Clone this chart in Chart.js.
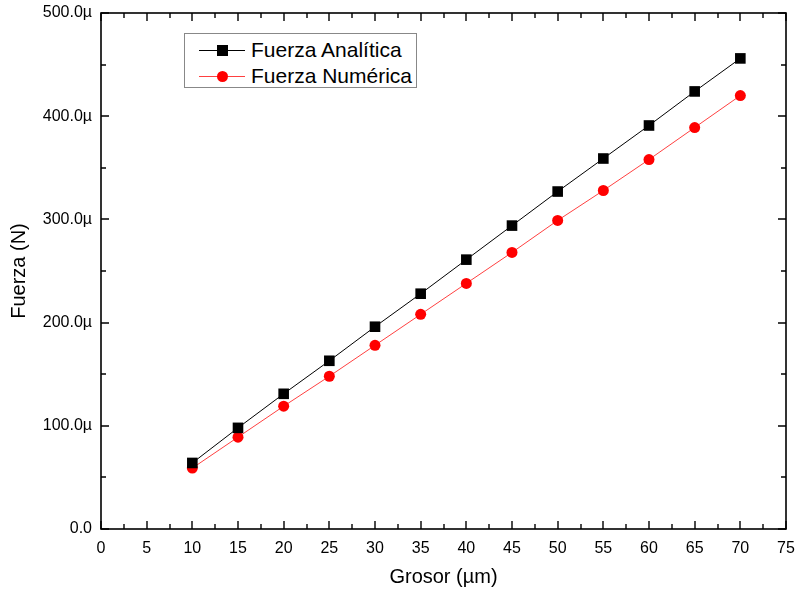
<!DOCTYPE html>
<html>
<head>
<meta charset="utf-8">
<script src="https://cdn.jsdelivr.net/npm/chart.js@4.4.0/dist/chart.umd.min.js"></script>
<style>
	body { margin: 0; background: #fff; }
	#wrap { position: relative; width: 796px; height: 594px; }
	#legend {
		position: absolute; left: 184px; top: 33px; width: 233px; height: 55px;
		border: 1px solid #888; background: #fff; box-sizing: border-box;
		font-family: "Liberation Sans", Arial, sans-serif; font-size: 21px; color: #000;
	}
	.row { position: absolute; left: 0; height: 26px; width: 100%; }
	.row .line { position: absolute; left: 14px; width: 46px; top: 13px; height: 1px; }
	.row .mark { position: absolute; left: 32px; top: 8px; width: 11px; height: 11px; }
	.row span { position: absolute; left: 66px; top: 1px; line-height: 24px; white-space: nowrap; }
</style>
</head>
<body>
<div id="wrap">
	<canvas id="chart" width="796" height="594"></canvas>
	<div id="legend">
		<div class="row" style="top:3px"><div class="line" style="background:#000"></div><div class="mark" style="background:#000"></div><span>Fuerza Analítica</span></div>
		<div class="row" style="top:29px"><div class="line" style="background:#ff4040"></div><div class="mark" style="background:#ff0000;border-radius:50%"></div><span>Fuerza Numérica</span></div>
	</div>
</div>
<script>
// grosor en micrometros
const grosor = [10, 15, 20, 25, 30, 35, 40, 45, 50, 55, 60, 65, 70];
// fuerza en microNewton
const fuerzaAnalitica = [64, 98, 131, 163, 196, 228, 261, 294, 327, 359, 391, 424, 456];
const fuerzaNumerica = [59, 89, 119, 148, 178, 208, 238, 268, 299, 328, 358, 389, 420];

const xTitle = "Grosor (µm)";
const yTitle = "Fuerza (N)";

const font = "'Liberation Sans', Arial, sans-serif";

function toPoints(ys) {
	return grosor.map(function(x, i) { return {x: x, y: ys[i]}; });
}

// frame with inward major/minor ticks on all four sides
const framePlugin = {
	id: "frame",
	afterDraw: function(chart) {
		const ctx = chart.ctx;
		const a = chart.chartArea;
		const xs = chart.scales.x;
		const ys = chart.scales.y;
		ctx.save();
		ctx.strokeStyle = "#000";
		ctx.lineWidth = 1.6;
		ctx.strokeRect(a.left, a.top, a.right - a.left, a.bottom - a.top);
		ctx.lineWidth = 1.4;
		ctx.beginPath();
		for (let v = 0; v <= 75; v += 2.5) {
			const px = Math.round(xs.getPixelForValue(v));
			const len = (v % 5 === 0) ? 8 : 5;
			ctx.moveTo(px, a.bottom); ctx.lineTo(px, a.bottom - len);
			ctx.moveTo(px, a.top); ctx.lineTo(px, a.top + len);
		}
		for (let v = 0; v <= 500; v += 50) {
			const py = Math.round(ys.getPixelForValue(v));
			const len = (v % 100 === 0) ? 8 : 5;
			ctx.moveTo(a.left, py); ctx.lineTo(a.left + len, py);
			ctx.moveTo(a.right, py); ctx.lineTo(a.right - len, py);
		}
		ctx.stroke();
		ctx.restore();
	}
};

new Chart(document.getElementById("chart"), {
	type: "line",
	data: {
		datasets: [
			{
				label: "Fuerza Analítica",
				data: toPoints(fuerzaAnalitica),
				borderColor: "#000",
				backgroundColor: "#000",
				borderWidth: 1,
				pointStyle: "rect",
				pointRadius: 7.5,
				pointBorderWidth: 0,
				tension: 0,
			},
			{
				label: "Fuerza Numérica",
				data: toPoints(fuerzaNumerica),
				borderColor: "#ff4040",
				backgroundColor: "#ff0000",
				borderWidth: 1,
				pointStyle: "circle",
				pointRadius: 5.5,
				pointBorderWidth: 0,
				tension: 0,
			},
		]
	},
	options: {
		responsive: false,
		animation: false,
		layout: {padding: {left: 0, right: 10, top: 13, bottom: 0}},
		plugins: {legend: {display: false}, tooltip: {enabled: false}},
		scales: {
			x: {
				type: "linear", min: 0, max: 75,
				grid: {display: false, drawTicks: false},
				border: {display: false},
				ticks: {stepSize: 5, padding: 10, color: "#000", font: {family: font, size: 16}},
				title: {display: true, text: xTitle, color: "#000", font: {family: font, size: 20}, padding: {top: 0, bottom: 5}},
				afterFit: function(scale) {
					scale.height = 65;
					scale.paddingLeft = 0;
					scale.paddingRight = 0;
				},
			},
			y: {
				type: "linear", min: 0, max: 500,
				grid: {display: false, drawTicks: false},
				border: {display: false},
				ticks: {
					stepSize: 100, padding: 9, color: "#000", font: {family: font, size: 16},
					callback: function(v) { return v === 0 ? "0.0" : v.toFixed(1) + "µ"; },
				},
				title: {display: true, text: yTitle, color: "#000", font: {family: font, size: 20}, padding: {top: 7, bottom: 0}},
				afterFit: function(scale) {
					scale.width = 101;
					scale.paddingTop = 0;
					scale.paddingBottom = 0;
				},
			},
		},
	},
	plugins: [framePlugin],
});
</script>
</body>
</html>
